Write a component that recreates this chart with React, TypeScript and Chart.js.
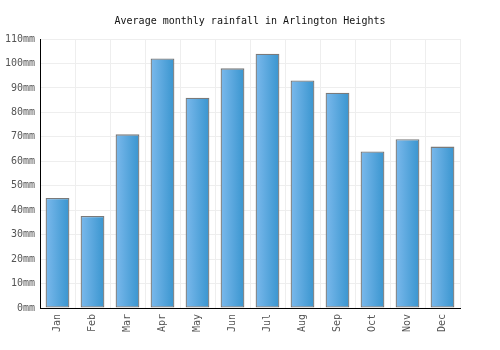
import React, { useEffect, useRef } from "react";
import { Chart, registerables } from "chart.js";

Chart.register(...registerables);

const months = ["Jan", "Feb", "Mar", "Apr", "May", "Jun", "Jul", "Aug", "Sep", "Oct", "Nov", "Dec"];
const rainfall = [45, 37.6, 71, 102, 86, 98, 104, 93, 88, 64, 69, 66];
const titleText = "Average monthly rainfall in Arlington Heights";
const yMax = 110;
const yStep = 10;

const FONT = "'DejaVu Sans Mono', 'Liberation Mono', monospace";
const BAR_PCT = 0.68;

export default function App() {
  const ref = useRef<HTMLCanvasElement | null>(null);

  useEffect(() => {
    const canvas = ref.current;
    if (!canvas) return;
    const chart = new Chart(canvas, {
      type: "bar",
      data: {
        labels: months,
        datasets: [
          {
            data: rainfall,
            backgroundColor: (ctx: any) => {
              const c = ctx.chart;
              const xs = c.scales && c.scales.x;
              if (!xs || !c.chartArea || ctx.dataIndex == null) return "#55a6e0";
              const cx = xs.getPixelForValue(ctx.dataIndex);
              const w = (xs.width / months.length) * BAR_PCT;
              if (!isFinite(cx) || !isFinite(w) || w <= 0) return "#55a6e0";
              const g = c.ctx.createLinearGradient(cx - w / 2, 0, cx + w / 2, 0);
              g.addColorStop(0, "#7bb9ec");
              g.addColorStop(1, "#3995cf");
              return g;
            },
            borderColor: "#7a7a7a",
            borderWidth: 1.3,
            borderSkipped: false,
            barPercentage: BAR_PCT,
            categoryPercentage: 1,
          },
        ],
      },
      options: {
        animation: false,
        responsive: false,
        maintainAspectRatio: false,
        layout: { padding: 0 },
        plugins: {
          legend: { display: false },
          tooltip: { enabled: false },
          title: {
            display: true,
            text: titleText,
            color: "#111",
            font: { family: FONT, size: 10, weight: "normal" },
            padding: { top: 15, bottom: 12 },
          },
        },
        scales: {
          x: {
            grid: { color: "#eeeeee", drawTicks: false, offset: true },
            border: { color: "#000", width: 1 },
            ticks: {
              color: "#555",
              font: { family: FONT, size: 10 },
              minRotation: 90,
              maxRotation: 90,
              padding: 6,
            },
            afterFit: (s: any) => {
              s.height = 42;
            },
          },
          y: {
            min: 0,
            max: yMax,
            grid: { color: "#eeeeee", drawTicks: false },
            border: { color: "#000", width: 1 },
            ticks: {
              stepSize: yStep,
              color: "#555",
              font: { family: FONT, size: 10 },
              padding: 5,
              callback: (v: any) => v + "mm",
            },
            afterFit: (s: any) => {
              s.width = 40;
            },
          },
          yRight: {
            position: "right",
            display: true,
            grid: { display: false },
            border: { display: false },
            ticks: { display: false },
            afterFit: (s: any) => {
              s.width = 40;
            },
          },
        },
      },
    });
    return () => chart.destroy();
  }, []);

  return (
    <div style={{ position: "fixed", left: 0, top: 0, width: 500, height: 350, background: "#fff" }}>
      <canvas ref={ref} width={500} height={350} style={{ width: 500, height: 350 }} />
    </div>
  );
}
